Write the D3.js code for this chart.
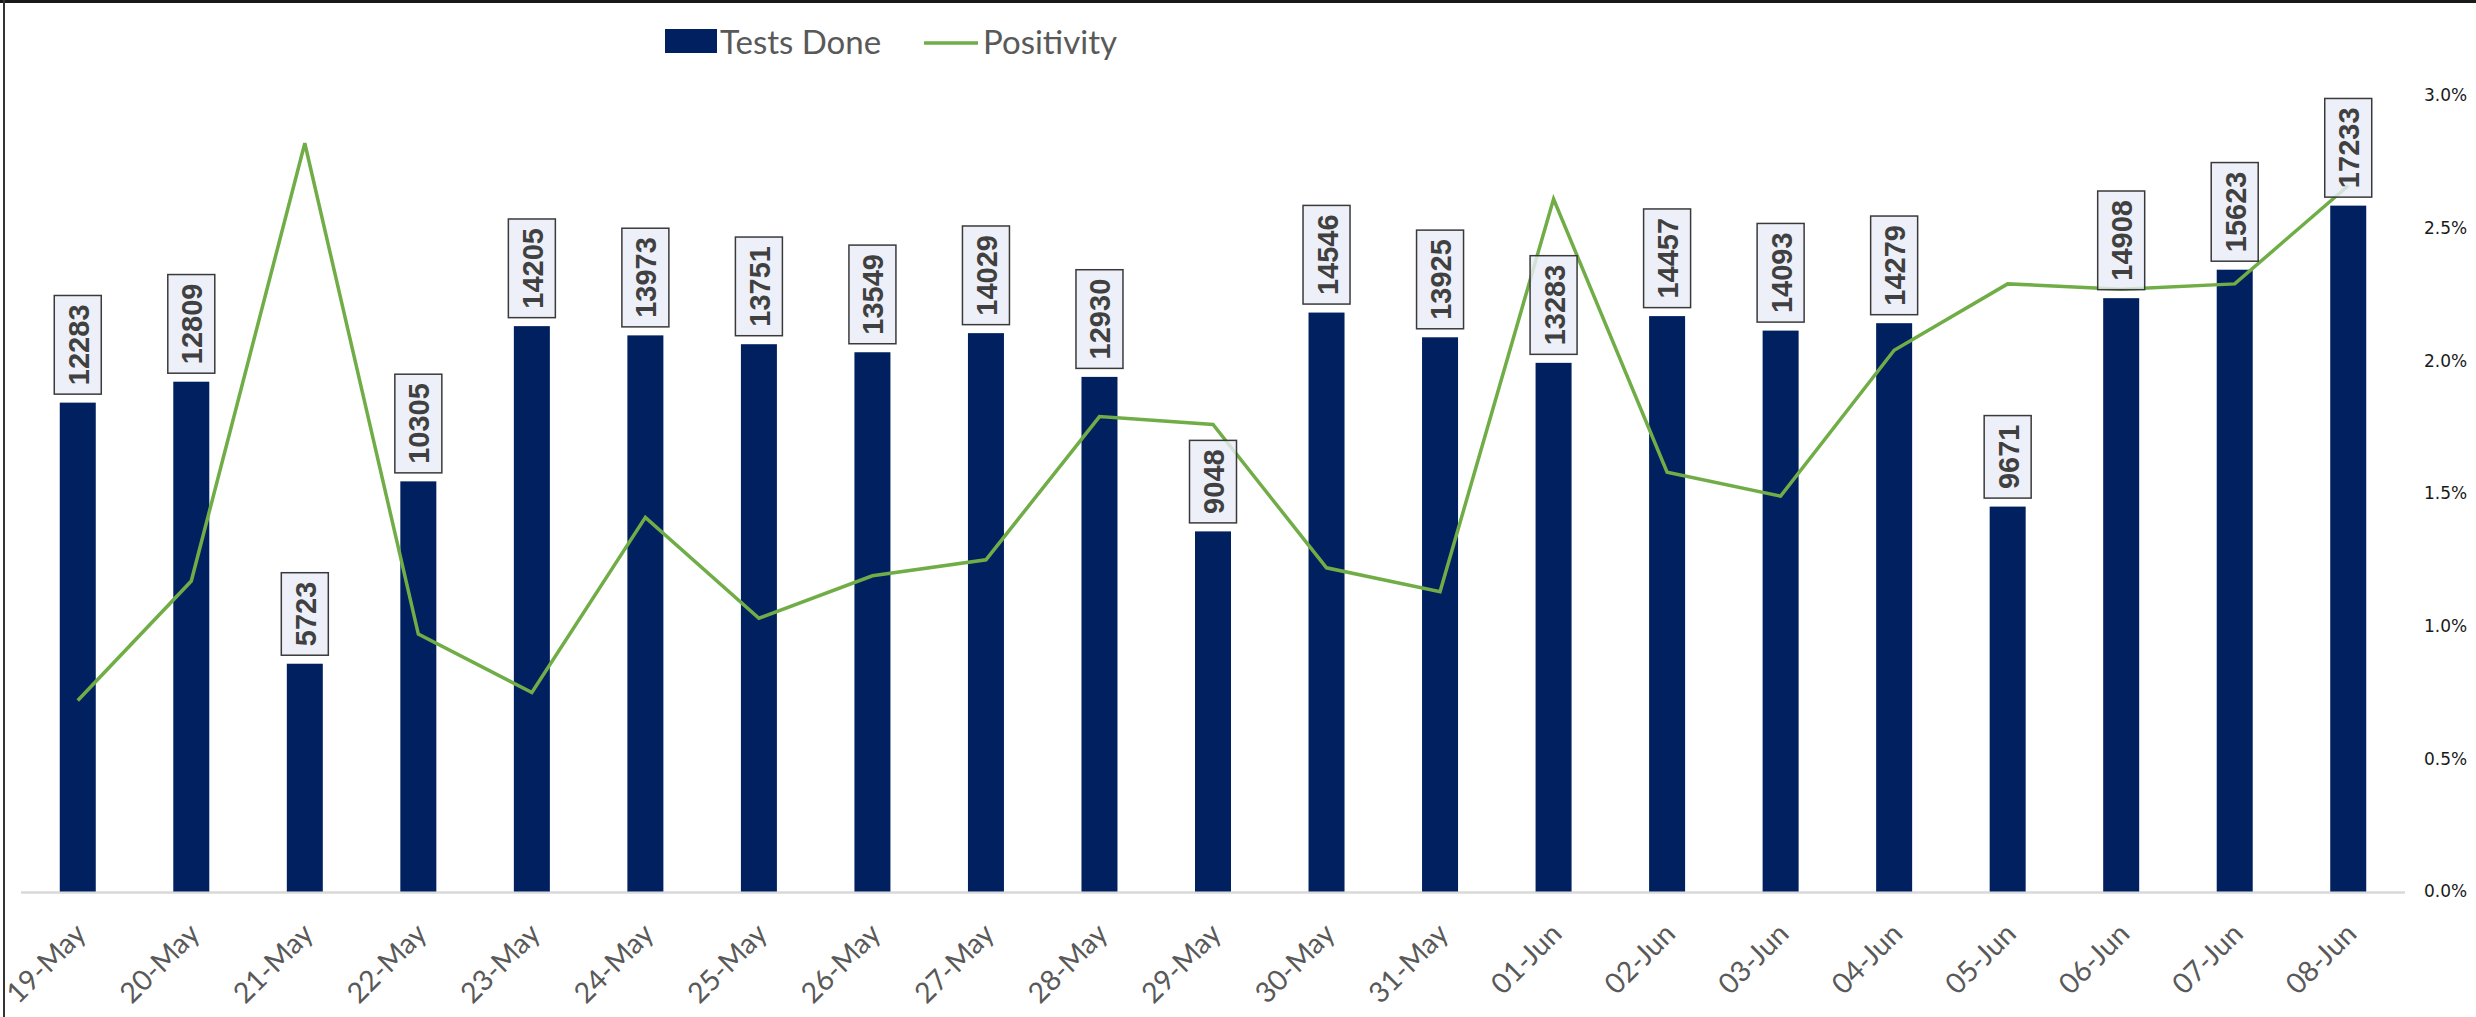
<!DOCTYPE html>
<html>
<head>
<meta charset="utf-8">
<script src="https://cdn.jsdelivr.net/npm/d3@7"></script>
<style>
  body { margin: 0; background: #fff; }
  svg { display: block; }
</style>
</head>
<body>
<script>
var width = 2476;
var height = 1017;

// data
var dates = ["19-May", "20-May", "21-May", "22-May", "23-May", "24-May", "25-May",
  "26-May", "27-May", "28-May", "29-May", "30-May", "31-May", "01-Jun", "02-Jun",
  "03-Jun", "04-Jun", "05-Jun", "06-Jun", "07-Jun", "08-Jun"];
var testsDone = [12283, 12809, 5723, 10305, 14205, 13973, 13751, 13549, 14029, 12930,
  9048, 14546, 13925, 13283, 14457, 14093, 14279, 9671, 14908, 15623, 17233];
var positivity = [0.72, 1.17, 2.82, 0.97, 0.75, 1.41, 1.03, 1.19, 1.25, 1.79, 1.76,
  1.22, 1.13, 2.61, 1.58, 1.49, 2.04, 2.29, 2.27, 2.29, 2.66];
var pctTicks = [0, 0.5, 1.0, 1.5, 2.0, 2.5, 3.0];

var plotLeft = 21, plotRight = 2405;
var plotTop = 95.5, plotBottom = 891.5;
var barWidth = 36;

var svg = d3.select("body").append("svg")
  .attr("width", width)
  .attr("height", height);

var x = d3.scaleBand().domain(dates).range([plotLeft, plotRight]).padding(0);
var yBar = d3.scaleLinear().domain([0, 20000]).range([plotBottom, plotTop]);
var yPct = d3.scaleLinear().domain([0, 3]).range([plotBottom, plotTop]);

function cx(d) { return x(d) + x.bandwidth() / 2; }

// frame lines (top and left)
svg.append("line").attr("x1", 0).attr("x2", width).attr("y1", 1.5).attr("y2", 1.5)
  .attr("stroke", "#1a1a1a").attr("stroke-width", 3);
svg.append("line").attr("x1", 4).attr("x2", 4).attr("y1", 0).attr("y2", height)
  .attr("stroke", "#333").attr("stroke-width", 2);

// category axis line
svg.append("line")
  .attr("x1", plotLeft).attr("x2", plotRight)
  .attr("y1", plotBottom + 1).attr("y2", plotBottom + 1)
  .attr("stroke", "#d9d9d9").attr("stroke-width", 2.5);

// bars
svg.selectAll("rect.bar")
  .data(dates)
  .enter()
  .append("rect")
  .attr("class", "bar")
  .attr("x", function(d) { return cx(d) - barWidth / 2; })
  .attr("y", function(d, i) { return yBar(testsDone[i]); })
  .attr("width", barWidth)
  .attr("height", function(d, i) { return plotBottom - yBar(testsDone[i]); })
  .attr("fill", "#002060");

// positivity line
var line = d3.line()
  .x(function(d, i) { return cx(dates[i]); })
  .y(function(d) { return yPct(d); });

svg.append("path")
  .datum(positivity)
  .attr("d", line)
  .attr("fill", "none")
  .attr("stroke", "#70AD47")
  .attr("stroke-width", 3.5)
  .attr("stroke-linejoin", "miter");

// data labels
var labels = svg.selectAll("g.lbl")
  .data(dates)
  .enter()
  .append("g")
  .attr("class", "lbl");

labels.each(function(d, i) {
  var g = d3.select(this);
  var rect = g.append("rect");
  var t = g.append("text")
    .text(testsDone[i])
    .attr("font-family", "'Liberation Sans', Arial, sans-serif")
    .attr("font-weight", "bold")
    .attr("font-size", 29)
    .attr("fill", "#404040")
    .attr("text-anchor", "middle")
    .attr("dominant-baseline", "central");
  var len = t.node().getComputedTextLength();
  var boxH = len + 18;
  var boxW = 47;
  var bottom = yBar(testsDone[i]) - 8.5;
  var midY = bottom - boxH / 2;
  rect.attr("x", cx(d) - boxW / 2)
    .attr("y", bottom - boxH)
    .attr("width", boxW)
    .attr("height", boxH)
    .attr("fill", "#E9EDF6")
    .attr("fill-opacity", 0.82)
    .attr("stroke", "#3a3a3a")
    .attr("stroke-width", 1.5);
  t.attr("transform", "translate(" + (cx(d) + 1) + "," + midY + ") rotate(-90)");
});

// category labels
svg.selectAll("text.cat")
  .data(dates)
  .enter()
  .append("text")
  .attr("class", "cat")
  .attr("transform", function(d) {
    return "translate(" + (cx(d) + 10) + "," + (plotBottom + 44) + ") rotate(-45)";
  })
  .attr("text-anchor", "end")
  .attr("font-family", "Lato, 'Open Sans', sans-serif")
  .attr("font-size", 28.5)
  .attr("fill", "#595959")
  .text(function(d) { return d; });

// right percentage axis
var axisR = d3.axisRight(yPct)
  .tickValues(pctTicks)
  .tickSize(0)
  .tickPadding(0)
  .tickFormat(function(d) { return d3.format(".1f")(d) + "%"; });

var gR = svg.append("g")
  .attr("transform", "translate(2424,0)")
  .call(axisR);
gR.select(".domain").remove();
gR.selectAll("text")
  .attr("font-family", "'DejaVu Sans', Verdana, sans-serif")
  .attr("font-size", 17)
  .attr("fill", "#1a1a1a");

// legend
var legend = svg.append("g").attr("transform", "translate(0,41)");
legend.append("rect")
  .attr("x", 665).attr("y", -12)
  .attr("width", 52).attr("height", 24)
  .attr("fill", "#002060");
legend.append("text")
  .attr("x", 720).attr("y", 0)
  .attr("dominant-baseline", "central")
  .attr("font-family", "Lato, 'Open Sans', sans-serif")
  .attr("font-size", 33)
  .attr("fill", "#595959")
  .text("Tests Done");
legend.append("line")
  .attr("x1", 924).attr("x2", 978)
  .attr("y1", 2).attr("y2", 2)
  .attr("stroke", "#70AD47").attr("stroke-width", 3.5);
legend.append("text")
  .attr("x", 983).attr("y", 0)
  .attr("dominant-baseline", "central")
  .attr("font-family", "Lato, 'Open Sans', sans-serif")
  .attr("font-size", 33)
  .attr("fill", "#595959")
  .text("Positivity");
</script>
</body>
</html>
